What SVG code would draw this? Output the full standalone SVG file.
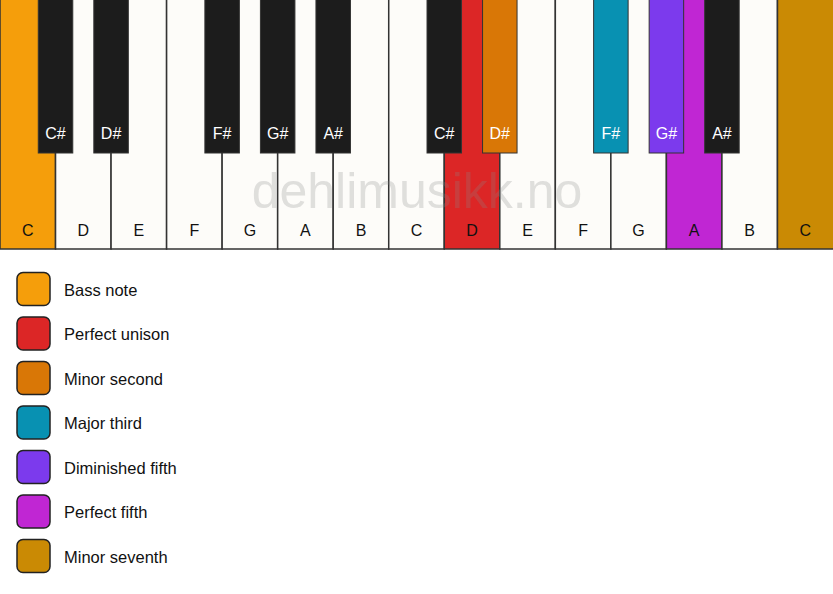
<svg xmlns="http://www.w3.org/2000/svg" width="833" height="594" viewBox="0 0 833 594">
<style>
.w{fill:#fdfcf9;stroke:#333;stroke-width:1.5}
.b{fill:#1c1c1c;stroke:#333;stroke-width:1}
.wl{font-family:"Liberation Sans",Arial,sans-serif;font-size:16px;fill:#111;text-anchor:middle}
.bl{font-family:"Liberation Sans",Arial,sans-serif;font-size:16px;fill:#fff;text-anchor:middle}
.lg{stroke:#222;stroke-width:1.5}
.lt{font-family:"Liberation Sans",Arial,sans-serif;font-size:16.5px;fill:#111}
.wm{font-family:"Liberation Sans",Arial,sans-serif;font-size:50px;fill:#888;fill-opacity:0.25;text-anchor:middle}
</style>
<rect width="833" height="594" fill="#ffffff"/>
<g id="white-keys">
<g id="wk0"><rect class="w" x="0" y="-2" width="55.53" height="251" style="fill:#f59e0b"/><text class="wl" x="27.8" y="236">C</text></g>
<g id="wk1"><rect class="w" x="55.53" y="-2" width="55.53" height="251"/><text class="wl" x="83.3" y="236">D</text></g>
<g id="wk2"><rect class="w" x="111.07" y="-2" width="55.53" height="251"/><text class="wl" x="138.8" y="236">E</text></g>
<g id="wk3"><rect class="w" x="166.6" y="-2" width="55.53" height="251"/><text class="wl" x="194.4" y="236">F</text></g>
<g id="wk4"><rect class="w" x="222.13" y="-2" width="55.53" height="251"/><text class="wl" x="249.9" y="236">G</text></g>
<g id="wk5"><rect class="w" x="277.67" y="-2" width="55.53" height="251"/><text class="wl" x="305.4" y="236">A</text></g>
<g id="wk6"><rect class="w" x="333.2" y="-2" width="55.53" height="251"/><text class="wl" x="361" y="236">B</text></g>
<g id="wk7"><rect class="w" x="388.73" y="-2" width="55.53" height="251"/><text class="wl" x="416.5" y="236">C</text></g>
<g id="wk8"><rect class="w" x="444.27" y="-2" width="55.53" height="251" style="fill:#dc2626"/><text class="wl" x="472" y="236">D</text></g>
<g id="wk9"><rect class="w" x="499.8" y="-2" width="55.53" height="251"/><text class="wl" x="527.6" y="236">E</text></g>
<g id="wk10"><rect class="w" x="555.33" y="-2" width="55.53" height="251"/><text class="wl" x="583.1" y="236">F</text></g>
<g id="wk11"><rect class="w" x="610.87" y="-2" width="55.53" height="251"/><text class="wl" x="638.6" y="236">G</text></g>
<g id="wk12"><rect class="w" x="666.4" y="-2" width="55.53" height="251" style="fill:#c026d3"/><text class="wl" x="694.2" y="236">A</text></g>
<g id="wk13"><rect class="w" x="721.93" y="-2" width="55.53" height="251"/><text class="wl" x="749.7" y="236">B</text></g>
<g id="wk14"><rect class="w" x="777.47" y="-2" width="56.53" height="251" style="fill:#ca8a04"/><text class="wl" x="805.2" y="236">C</text></g>
</g>
<text class="wm" x="417" y="208">dehlimusikk.no</text>
<g id="black-keys">
<g id="bk1"><rect class="b" x="38.28" y="-2" width="34.5" height="155"/><text class="bl" x="55.53" y="139">C#</text></g>
<g id="bk2"><rect class="b" x="93.82" y="-2" width="34.5" height="155"/><text class="bl" x="111.07" y="139">D#</text></g>
<g id="bk4"><rect class="b" x="204.88" y="-2" width="34.5" height="155"/><text class="bl" x="222.13" y="139">F#</text></g>
<g id="bk5"><rect class="b" x="260.42" y="-2" width="34.5" height="155"/><text class="bl" x="277.67" y="139">G#</text></g>
<g id="bk6"><rect class="b" x="315.95" y="-2" width="34.5" height="155"/><text class="bl" x="333.2" y="139">A#</text></g>
<g id="bk8"><rect class="b" x="427.02" y="-2" width="34.5" height="155"/><text class="bl" x="444.27" y="139">C#</text></g>
<g id="bk9"><rect class="b" x="482.55" y="-2" width="34.5" height="155" style="fill:#d97706"/><text class="bl" x="499.8" y="139">D#</text></g>
<g id="bk11"><rect class="b" x="593.62" y="-2" width="34.5" height="155" style="fill:#0891b2"/><text class="bl" x="610.87" y="139">F#</text></g>
<g id="bk12"><rect class="b" x="649.15" y="-2" width="34.5" height="155" style="fill:#7c3aed"/><text class="bl" x="666.4" y="139">G#</text></g>
<g id="bk13"><rect class="b" x="704.68" y="-2" width="34.5" height="155"/><text class="bl" x="721.93" y="139">A#</text></g>
</g>
<g id="connectors"></g>
<g id="legend">
<g id="lg-bass"><rect class="lg" x="17" y="272.5" width="33" height="33" rx="6" fill="#f59e0b"/><text class="lt" x="64" y="295.5">Bass note</text></g>
<g id="lg-unison"><rect class="lg" x="17" y="317" width="33" height="33" rx="6" fill="#dc2626"/><text class="lt" x="64" y="340">Perfect unison</text></g>
<g id="lg-m2"><rect class="lg" x="17" y="361.5" width="33" height="33" rx="6" fill="#d97706"/><text class="lt" x="64" y="384.5">Minor second</text></g>
<g id="lg-M3"><rect class="lg" x="17" y="406" width="33" height="33" rx="6" fill="#0891b2"/><text class="lt" x="64" y="429">Major third</text></g>
<g id="lg-d5"><rect class="lg" x="17" y="450.5" width="33" height="33" rx="6" fill="#7c3aed"/><text class="lt" x="64" y="473.5">Diminished fifth</text></g>
<g id="lg-P5"><rect class="lg" x="17" y="495" width="33" height="33" rx="6" fill="#c026d3"/><text class="lt" x="64" y="518">Perfect fifth</text></g>
<g id="lg-m7"><rect class="lg" x="17" y="539.5" width="33" height="33" rx="6" fill="#ca8a04"/><text class="lt" x="64" y="562.5">Minor seventh</text></g>
</g>
</svg>
